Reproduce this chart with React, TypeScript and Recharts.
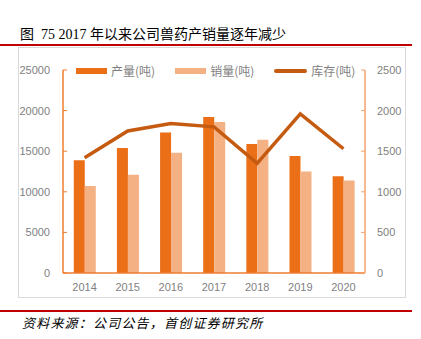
import { ComposedChart, Bar, Line, XAxis, YAxis } from 'recharts';

const years = ['2014', '2015', '2016', '2017', '2018', '2019', '2020'];
const production = [13900, 15400, 17300, 19200, 15900, 14400, 11900];
const sales = [10700, 12100, 14800, 18600, 16400, 12500, 11400];
const inventory = [1420, 1750, 1840, 1800, 1350, 1960, 1530];
const leftTicks = [0, 5000, 10000, 15000, 20000, 25000];
const rightTicks = [0, 500, 1000, 1500, 2000, 2500];

const data = years.map((year, i) => ({
  year,
  production: production[i],
  sales: sales[i],
  inventory: inventory[i],
}));

const PROD = '#EB6F17';
const SALES = '#F4B183';
const INV = '#C55A11';
const tickStyle = { fill: '#7f7f7f', fontSize: 11, fontFamily: 'Liberation Sans, Arial, sans-serif' };

const legendItems = [
  { label: '产量(吨)', color: PROD, kind: 'bar' },
  { label: '销量(吨)', color: SALES, kind: 'bar' },
  { label: '库存(吨)', color: INV, kind: 'line' },
];

// legend is an overlay so it doesn't push the plot area down
const ChartLegend = () => (
  <div
    style={{
      position: 'absolute',
      left: 76,
      top: 62,
      display: 'flex',
      alignItems: 'center',
      fontFamily: '"Noto Sans CJK SC", sans-serif',
      fontSize: 12,
      color: '#7f7f7f',
      whiteSpace: 'nowrap',
    }}
  >
    {legendItems.map((item) => (
      <div key={item.label} style={{ display: 'flex', alignItems: 'center', marginRight: 20 }}>
        <span
          style={{
            display: 'inline-block',
            width: item.kind === 'bar' ? 31 : 33,
            height: item.kind === 'bar' ? 6 : 4,
            borderRadius: item.kind === 'bar' ? 0 : 2,
            background: item.color,
            marginRight: 4,
          }}
        />
        <span>{item.label}</span>
      </div>
    ))}
  </div>
);

export default function App() {
  return (
    <div style={{ position: 'absolute', left: 0, top: 0, width: 421, height: 339, background: '#fff', overflow: 'hidden' }}>
      <div
        style={{
          position: 'absolute',
          left: 20,
          top: 23,
          fontSize: 14,
          color: '#000',
          fontFamily: '"Liberation Serif", "Noto Sans CJK SC", serif',
          whiteSpace: 'nowrap',
        }}
      >
        图&nbsp;&nbsp;75 2017 年以来公司兽药产销量逐年减少
      </div>
      <div style={{ position: 'absolute', left: 0, top: 44, width: 412, height: 2, background: '#C00000' }} />
      <div style={{ position: 'absolute', left: 18, top: 47, width: 386, height: 249, border: '1px solid #d9d9d9' }} />
      <div style={{ position: 'absolute', left: 0, top: 310, width: 412, height: 2, background: '#C00000' }} />
      <div
        style={{
          position: 'absolute',
          left: 22,
          top: 313,
          fontSize: 13,
          letterSpacing: 1.2,
          fontStyle: 'italic',
          color: '#000',
          fontFamily: '"Noto Sans CJK SC", sans-serif',
          whiteSpace: 'nowrap',
        }}
      >
        资料来源：公司公告，首创证券研究所
      </div>
      <div style={{ position: 'absolute', left: 0, top: 0 }}>
        <ComposedChart
          width={421}
          height={339}
          data={data}
          margin={{ top: 70, right: 11, left: 18, bottom: 36 }}
          barCategoryGap="25%"
          barGap={0}
        >
          <XAxis
            dataKey="year"
            tick={tickStyle}
            tickLine={false}
            tickSize={0}
            tickMargin={10}
            height={30}
            axisLine={{ stroke: '#ED7D31', strokeWidth: 1.5 }}
          />
          <YAxis
            yAxisId="left"
            domain={[0, 25000]}
            ticks={leftTicks}
            width={45}
            tick={tickStyle}
            tickSize={-4}
            tickMargin={17}
            tickLine={{ stroke: '#ED7D31' }}
            axisLine={{ stroke: '#ED7D31', strokeWidth: 1.5 }}
          />
          <YAxis
            yAxisId="right"
            orientation="right"
            domain={[0, 2500]}
            ticks={rightTicks}
            width={45}
            tick={tickStyle}
            tickSize={-4}
            tickMargin={16}
            tickLine={{ stroke: '#F4A36B' }}
            axisLine={{ stroke: '#F4A36B', strokeWidth: 1.5 }}
          />
          <Bar yAxisId="left" dataKey="production" fill={PROD} isAnimationActive={false} />
          <Bar yAxisId="left" dataKey="sales" fill={SALES} isAnimationActive={false} />
          <Line
            yAxisId="right"
            type="linear"
            dataKey="inventory"
            stroke={INV}
            strokeWidth={3.5}
            dot={false}
            activeDot={false}
            isAnimationActive={false}
          />
        </ComposedChart>
      </div>
      <ChartLegend />
    </div>
  );
}
